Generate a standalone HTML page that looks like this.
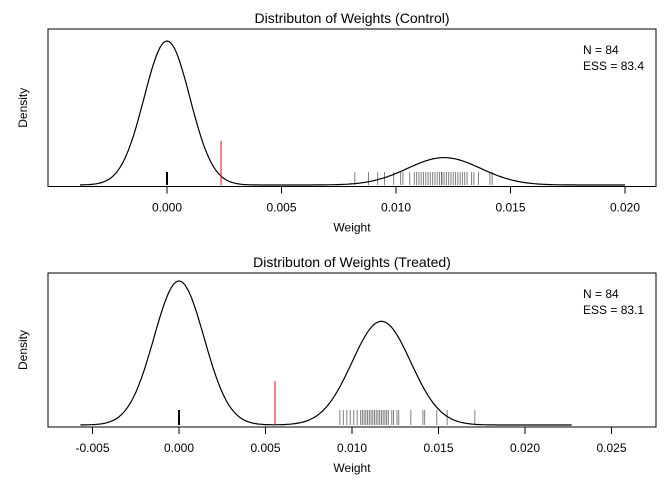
<!DOCTYPE html>
<html><head><meta charset="utf-8"><style>
body{margin:0;background:#fff}
svg text{font-family:"Liberation Sans",Arial,sans-serif;font-size:12px;fill:#000}
</style></head><body>
<svg id="c" width="672" height="480" xmlns="http://www.w3.org/2000/svg"></svg>
<script>
// Control panel data
const ctrlTicks = [0, 0.005, 0.010, 0.015, 0.020];
const ctrlTickLabels = ["0.000","0.005","0.010","0.015","0.020"];
const ctrlRug = [0.0082,0.0088,0.0092,0.0095,0.0099,0.0102,0.0103,0.0106,0.0108,0.0109,0.0110,0.0111,0.0112,0.0113,0.0114,0.0115,0.0116,0.0117,0.0118,0.0119,0.0120,0.0120,0.0121,0.0122,0.0123,0.0124,0.0125,0.0126,0.0127,0.0128,0.0129,0.0130,0.0131,0.0133,0.0134,0.0136,0.0141,0.0142];
const ctrlComponents = [{mu:0,sd:0.001,w:1},{mu:0.0121,sd:0.0016,w:0.19}];
const ctrlRange = [-0.0038, 0.0200];
const ctrlRed = 0.00236;
// Treated panel data
const trtTicks = [-0.005, 0, 0.005, 0.010, 0.015, 0.020, 0.025];
const trtTickLabels = ["-0.005","0.000","0.005","0.010","0.015","0.020","0.025"];
const trtRug = [0.0093,0.0095,0.0097,0.0099,0.0101,0.0103,0.0105,0.0106,0.0107,0.0108,0.0109,0.0110,0.0111,0.0112,0.0113,0.0114,0.0115,0.0116,0.0117,0.0118,0.0119,0.0120,0.0121,0.0123,0.0124,0.0126,0.0127,0.0134,0.0141,0.0142,0.0149,0.0155,0.0171];
const trtComponents = [{mu:0,sd:0.00145,w:1},{mu:0.0117,sd:0.0017,w:0.72}];
const trtRange = [-0.0057, 0.0227];
const trtRed = 0.00555;

const svg=document.getElementById('c');
const NS='http://www.w3.org/2000/svg';
function mk(t,a,txt){const e=document.createElementNS(NS,t);for(const k in a)e.setAttribute(k,a[k]);if(txt!==undefined)e.textContent=txt;svg.appendChild(e);return e;}

function panel(p){
  const x=v=>p.x0+(v-p.v0)*p.sx;
  const y=d=>p.base-d*(p.base-p.peak);
  let r=mk('rect',{x:48,y:p.top,width:608,height:p.bot-p.top,fill:'none',stroke:'#000'});
  
  
  let t=mk('text',{x:352,y:p.top-6,'text-anchor':'middle',style:'font-size:14px'},p.title);
  
  
  p.ticks.forEach((v,i)=>{
    let l=mk('line',{x1:x(v),x2:x(v),y1:p.bot,y2:p.bot+7,stroke:'#000'});
    
    
    let tl=mk('text',{x:x(v),y:p.bot+25,'text-anchor':'middle'},p.labels[i]);
    
    
  });
  let xl=mk('text',{x:352,y:p.bot+45,'text-anchor':'middle'},'Weight');
  
  
  const cy=(p.top+p.bot)/2;
  let yl=mk('text',{x:27,y:cy,'text-anchor':'middle',transform:`rotate(-90 27 ${cy})`},'Density');
  
  
  let d='';
  for(let i=0;i<=300;i++){
    const v=p.range[0]+(p.range[1]-p.range[0])*i/300;
    let s=0;p.comp.forEach(c=>{s+=c.w*Math.exp(-0.5*((v-c.mu)/c.sd)**2);});
    d+=(i?'L':'M')+x(v).toFixed(1)+','+y(s).toFixed(1);
  }
  let pa=mk('path',{d:d,fill:'none',stroke:'#000','stroke-width':1.2});
  
  
  p.rug.forEach(v=>{
    let l=mk('line',{x1:x(v),x2:x(v),y1:p.base-p.rugH,y2:p.base,stroke:'rgba(0,0,0,0.5)'});
    
    
  });
  let z=mk('line',{x1:x(0),x2:x(0),y1:p.base-p.rugH,y2:p.base,stroke:'#000','stroke-width':2});
  
  
  let rd=mk('line',{x1:x(p.red),x2:x(p.red),y1:p.base-44,y2:p.base,stroke:'#f00'});
  
  
  let n1=mk('text',{x:583,y:p.top+25},'N = 84');
  
  
  let n2=mk('text',{x:583,y:p.top+41},p.ess);
  
  
}
panel({id:'control',title:'Distributon of Weights (Control)',top:29,bot:186.5,base:185,peak:41,x0:167,v0:0,sx:22900,ticks:ctrlTicks,labels:ctrlTickLabels,rug:ctrlRug,comp:ctrlComponents,range:ctrlRange,red:ctrlRed,rugH:13,ess:'ESS = 83.4'});
panel({id:'treated',title:'Distributon of Weights (Treated)',top:273,bot:427,base:425,peak:281,x0:179,v0:0,sx:17300,ticks:trtTicks,labels:trtTickLabels,rug:trtRug,comp:trtComponents,range:trtRange,red:trtRed,rugH:15,ess:'ESS = 83.1'});
</script>
</body></html>
